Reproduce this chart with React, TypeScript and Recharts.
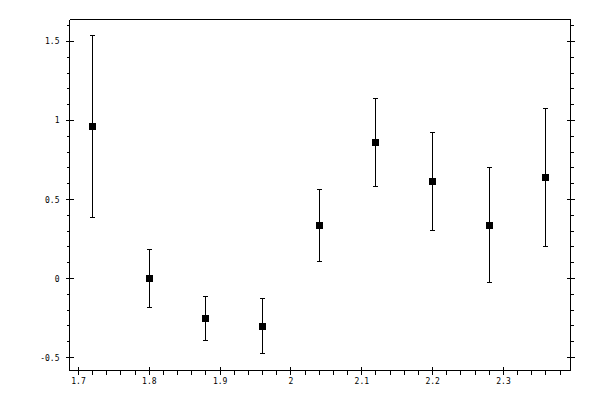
import React from "react";
import { ScatterChart, Scatter, XAxis, YAxis, ErrorBar } from "recharts";

// measurement points
const xValues = [1.72, 1.8, 1.88, 1.96, 2.04, 2.12, 2.2, 2.28, 2.36];
const yValues = [0.96, 0.0, -0.253, -0.304, 0.335, 0.861, 0.614, 0.335, 0.639];
const yLower = [0.386, -0.184, -0.39, -0.475, 0.108, 0.582, 0.304, -0.025, 0.204];
const yUpper = [1.537, 0.181, -0.116, -0.127, 0.563, 1.137, 0.924, 0.703, 1.073];

// axes
const xMajorTicks = [1.7, 1.8, 1.9, 2.0, 2.1, 2.2, 2.3];
const xTickLabels = ["1.7", "1.8", "1.9", "2", "2.1", "2.2", "2.3"];
const yMajorTicks = [-0.5, 0, 0.5, 1, 1.5];
const yTickLabels = ["-0.5", "0", "0.5", "1", "1.5"];

const X_DOMAIN: [number, number] = [1.6873, 2.3946];
const Y_DOMAIN: [number, number] = [-0.582, 1.639];

const steps = (from: number, to: number, step: number) => {
  const out: number[] = [];
  for (let i = 0; from + i * step <= to + 1e-9; i++) {
    out.push(Math.round((from + i * step) * 1000) / 1000);
  }
  return out;
};
const xAllTicks = steps(1.7, 2.38, 0.02);
const yAllTicks = steps(-0.5, 1.6, 0.1);

const data = xValues.map((x, i) => ({
  x,
  y: yValues[i],
  err: [yValues[i] - yLower[i], yUpper[i] - yValues[i]],
}));

const labelFor = (v: number, majors: number[], labels: string[]) => {
  const idx = majors.findIndex((m) => Math.abs(m - v) < 1e-6);
  return idx >= 0 ? labels[idx] : null;
};

const FONT = "'DejaVu Sans Mono', monospace";

const BottomTick = (props: any) => {
  const { x, y, payload } = props;
  const label = labelFor(payload.value, xMajorTicks, xTickLabels);
  return (
    <g>
      <line x1={x} x2={x} y1={label ? y - 4 : y} y2={y + 4} stroke="#000" />
      {label && (
        <text x={x} y={y + 13} textAnchor="middle" fontFamily={FONT} fontSize={8} fill="#000">
          {label}
        </text>
      )}
    </g>
  );
};

const TopTick = (props: any) => {
  const { x, y, payload } = props;
  const major = labelFor(payload.value, xMajorTicks, xTickLabels) !== null;
  return <line x1={x} x2={x} y1={y - (major ? 4 : 3)} y2={major ? y + 4 : y} stroke="#000" />;
};

const LeftTick = (props: any) => {
  const { x, y, payload } = props;
  const label = labelFor(payload.value, yMajorTicks, yTickLabels);
  return (
    <g>
      <line x1={x - (label ? 4 : 3)} x2={label ? x + 4 : x} y1={y} y2={y} stroke="#000" />
      {label && (
        <text x={x - 10} y={y + 3} textAnchor="end" fontFamily={FONT} fontSize={8} fill="#000">
          {label}
        </text>
      )}
    </g>
  );
};

const RightTick = (props: any) => {
  const { x, y, payload } = props;
  const major = labelFor(payload.value, yMajorTicks, yTickLabels) !== null;
  return <line x1={major ? x - 4 : x} x2={x + (major ? 4 : 3)} y1={y} y2={y} stroke="#000" />;
};

const SquareDot = (props: any) => {
  const { cx, cy } = props;
  return <rect x={cx - 3.5} y={cy - 3.5} width={7} height={7} fill="#000" />;
};

export default function App() {
  return (
    <div style={{ position: "absolute", left: 0, top: 0, background: "#fff" }}>
      <style>{`.plot line, .plot path, .plot rect { shape-rendering: crispEdges; }`}</style>
      <ScatterChart
        className="plot"
        width={600}
        height={400}
        margin={{ top: 0, right: 0, bottom: 0, left: 0 }}
      >
        <XAxis
          xAxisId="bottom"
          dataKey="x"
          type="number"
          orientation="bottom"
          domain={X_DOMAIN}
          allowDataOverflow
          ticks={xAllTicks}
          interval={0}
          height={29.5}
          tickSize={0}
          tickMargin={0}
          tickLine={false}
          axisLine={{ stroke: "#000" }}
          tick={BottomTick}
        />
        <XAxis
          xAxisId="top"
          type="number"
          orientation="top"
          domain={X_DOMAIN}
          allowDataOverflow
          ticks={xAllTicks}
          interval={0}
          height={19.5}
          tickSize={0}
          tickMargin={0}
          tickLine={false}
          axisLine={{ stroke: "#000" }}
          tick={TopTick}
        />
        <YAxis
          yAxisId="left"
          dataKey="y"
          type="number"
          orientation="left"
          domain={Y_DOMAIN}
          allowDataOverflow
          ticks={yAllTicks}
          interval={0}
          width={69.5}
          tickSize={0}
          tickMargin={0}
          tickLine={false}
          axisLine={{ stroke: "#000" }}
          tick={LeftTick}
        />
        <YAxis
          yAxisId="right"
          type="number"
          orientation="right"
          domain={Y_DOMAIN}
          allowDataOverflow
          ticks={yAllTicks}
          interval={0}
          width={29.5}
          tickSize={0}
          tickMargin={0}
          tickLine={false}
          axisLine={{ stroke: "#000" }}
          tick={RightTick}
        />
        <Scatter
          data={data}
          xAxisId="bottom"
          yAxisId="left"
          fill="#000"
          shape={SquareDot}
          isAnimationActive={false}
        >
          <ErrorBar dataKey="err" direction="y" width={2.5} stroke="#000" strokeWidth={1} />
        </Scatter>
      </ScatterChart>
    </div>
  );
}
